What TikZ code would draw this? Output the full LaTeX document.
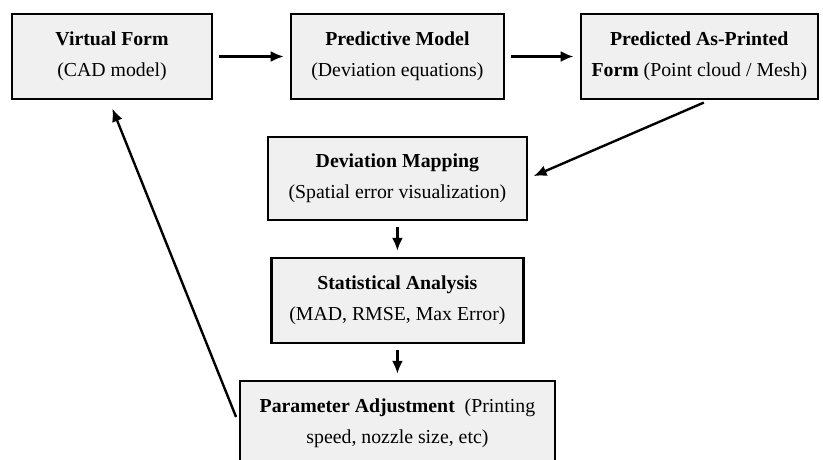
\documentclass[tikz,border=0pt]{standalone}
\usepackage{fontspec}
\setmainfont{Liberation Serif}
\usepackage{xcolor}
\usetikzlibrary{arrows.meta,positioning}
\definecolor{Panel}{HTML}{F0F0F0}

\begin{document}
\begin{tikzpicture}[x=1pt,y=1pt,font=\fontsize{19.8}{31}\selectfont,>={Latex[length=13pt,width=11pt]},
  every node/.style={align=center},
  stage/.style={draw,line width=2.4pt,fill=Panel,minimum height=85pt,inner sep=0pt},
  flow/.style={->,line width=2.4pt,shorten <=6pt,shorten >=6pt}]
  \useasboundingbox (0,0) rectangle (823,-459);
  \node[stage,minimum width=200pt] (vf) at (112,-56.5) {\textbf{Virtual Form}\\(CAD model)};
  \node[stage,minimum width=213pt,right=76.5pt of vf] (pm) {\textbf{Predictive Model}\\(Deviation equations)};
  \node[stage,minimum width=237pt,right=74.5pt of pm] (pf) {\textbf{Predicted As-Printed}\\\textbf{Form} (Point cloud / Mesh)};
  \node[stage,minimum width=259pt,minimum height=83pt,below=35.6pt of pm] (dm) {\textbf{Deviation Mapping}\\(Spatial error visualization)};
  \node[stage,minimum width=252pt,below=35.6pt of dm] (sa) {\textbf{Statistical Analysis}\\(MAD, RMSE, Max Error)};
  \node[stage,minimum width=315pt,below=35.6pt of sa] (pa) {\textbf{Parameter Adjustment}\ \ (Printing\\speed, nozzle size, etc)};
  \draw[flow](vf)--(pm); \draw[flow](pm)--(pf);
  \draw[flow]([xshift=10pt]pf.south)--(dm.east);
  \draw[flow](dm)--(sa); \draw[flow](sa)--(pa);
  \draw[flow,shorten <=7pt,shorten >=9pt](pa.west)--([xshift=-3pt]vf.south);
\end{tikzpicture}
\end{document}
